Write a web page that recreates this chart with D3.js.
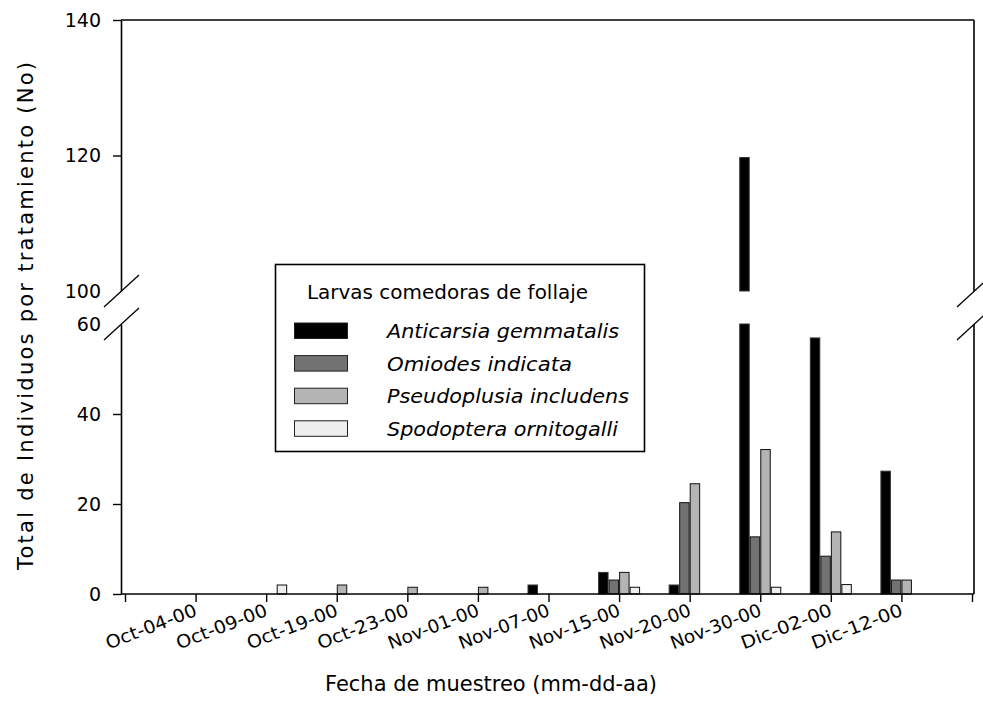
<!DOCTYPE html>
<html><head><meta charset="utf-8">
<script src="https://cdn.jsdelivr.net/npm/d3@7"></script>
<style>
body{margin:0;background:#fff;}
svg{display:block;}
text{font-family:"DejaVu Sans",sans-serif;fill:#000;}
</style></head>
<body><svg id="c" width="983" height="723"></svg>
<script>
const categories = ["Oct-04-00","Oct-09-00","Oct-19-00","Oct-23-00","Nov-01-00","Nov-07-00","Nov-15-00","Nov-20-00","Nov-30-00","Dic-02-00","Dic-12-00"];
const seriesNames = ["Anticarsia gemmatalis","Omiodes indicata","Pseudoplusia includens","Spodoptera ornitogalli"];
const anticarsia   = [0,0,0,0,0,2,4.8,2,119.7,56.9,27.3];
const omiodes      = [0,0,0,0,0,0,3.1,20.3,12.7,8.4,3.1];
const pseudoplusia = [0,0,2,1.5,1.5,0,4.8,24.5,32.1,13.8,3.1];
const spodoptera   = [0,2,0,0,0,0,1.5,0,1.5,2.1,0];
const seriesColors = ["#000000","#727272","#b4b4b4","#eeeeee"];
const lowerTicks = [0,20,40,60];
const upperTicks = [100,120,140];
const legendTitle = "Larvas comedoras de follaje";
const yTitle = "Total de Individuos por tratamiento (No)";
const xTitle = "Fecha de muestreo (mm-dd-aa)";

const seriesValues = [anticarsia, omiodes, pseudoplusia, spodoptera];
const svg = d3.select("#c");
const L = 121, R = 974, T = 20, B = 594;
const yLow = d3.scaleLinear().domain([0,60]).range([B,324]);
const yUp = d3.scaleLinear().domain([100,140]).range([291,T]);
const x = d3.scalePoint().domain(["_s",...categories,"_e"]).range([125,972]);
const inner = d3.scaleBand().domain(seriesNames).range([-20.5,20.5]).paddingInner(0.1);

// bars
const g = svg.append("g");
seriesNames.forEach((s,si)=>{
  categories.forEach((c,ci)=>{
    const v = seriesValues[si][ci];
    if(!v) return;
    const bx = x(c)+inner(s);
    const segs = [];
    if(v<=60) segs.push([yLow(v), yLow(0)]);
    else { segs.push([yLow(60), yLow(0)]); segs.push([yUp(v), yUp(100)]); }
    segs.forEach(([y0,y1])=>{
      g.append("rect").attr("x",bx).attr("y",y0).attr("width",inner.bandwidth()).attr("height",y1-y0)
        .attr("fill",seriesColors[si]).attr("stroke",si===0?"#333":"#111").attr("stroke-width",1);
    });
  });
});

// y axes
const axLow = svg.append("g").attr("transform",`translate(${L},0)`)
  .call(d3.axisLeft(yLow).tickValues(lowerTicks).tickSize(8).tickSizeOuter(0).tickPadding(12));
const axUp = svg.append("g").attr("transform",`translate(${L},0)`)
  .call(d3.axisLeft(yUp).tickValues(upperTicks).tickSize(8).tickSizeOuter(0).tickPadding(12));
[axLow,axUp].forEach(a=>{
  a.selectAll("text").style("font-size","19px").style("font-family","DejaVu Sans");
  a.selectAll(".domain").attr("stroke","#000").attr("stroke-width",1.6);
  a.selectAll(".tick line").attr("stroke-width",1.4).attr("opacity",d=>(d===60||d===100)?0:1);
});

// frame top & right
svg.append("line").attr("x1",L).attr("x2",R).attr("y1",T).attr("y2",T).attr("stroke","#000").attr("stroke-width",1.6);
svg.append("line").attr("x1",R).attr("x2",R).attr("y1",T).attr("y2",yUp(100)).attr("stroke","#000").attr("stroke-width",1.6);
svg.append("line").attr("x1",R).attr("x2",R).attr("y1",yLow(60)).attr("y2",B).attr("stroke","#000").attr("stroke-width",1.6);

// break marks
[L,R].forEach(ax=>{
  [yUp(100), yLow(60)].forEach(yy=>{
    svg.append("line").attr("x1",ax-17).attr("y1",yy+16).attr("x2",ax+18).attr("y2",yy-16)
      .attr("stroke","#000").attr("stroke-width",1.3);
  });
});

// x axis
const xa = svg.append("g").attr("transform",`translate(0,${B})`)
  .call(d3.axisBottom(x).tickSize(8).tickSizeOuter(0).tickFormat(d=>d[0]==="_"?"":d));
xa.select(".domain").attr("d",`M${L},0H${R}`).attr("stroke-width",1.6);
xa.selectAll(".tick line").attr("stroke-width",1.4);
xa.selectAll(".tick text").style("font-size","18px").style("font-family","DejaVu Sans")
  .attr("text-anchor","end").attr("y",0).attr("dy","0")
  .attr("textLength",d=>d[0]==="_"?null:96).attr("lengthAdjust","spacingAndGlyphs")
  .attr("transform","translate(2,21) rotate(-21)");

// titles
svg.append("text").attr("x",491).attr("y",691).attr("text-anchor","middle").style("font-size","21px")
  .attr("textLength",332).attr("lengthAdjust","spacingAndGlyphs").text(xTitle);
svg.append("text").attr("transform","translate(33,316) rotate(-90)").attr("text-anchor","middle").style("font-size","21px")
  .attr("textLength",508).attr("lengthAdjust","spacing").text(yTitle);

// legend
const lg = svg.append("g");
lg.append("rect").attr("x",275.5).attr("y",264.5).attr("width",369).attr("height",187).attr("fill","#fff").attr("stroke","#000").attr("stroke-width",1.6);
lg.append("text").attr("x",307).attr("y",299).style("font-size","19px")
  .attr("textLength",281).attr("lengthAdjust","spacingAndGlyphs").text(legendTitle);
const legendLens = [232,185,242,231];
seriesNames.forEach((s,i)=>{
  const yy = 323 + i*32.6;
  lg.append("rect").attr("x",294.5).attr("y",yy).attr("width",53).attr("height",15.5).attr("fill",seriesColors[i]).attr("stroke","#222").attr("stroke-width",1);
  lg.append("text").attr("x",387).attr("y",yy+15).style("font-size","20px").style("font-style","italic")
    .attr("textLength",legendLens[i]).attr("lengthAdjust","spacingAndGlyphs").text(s);
});
</script></body></html>
